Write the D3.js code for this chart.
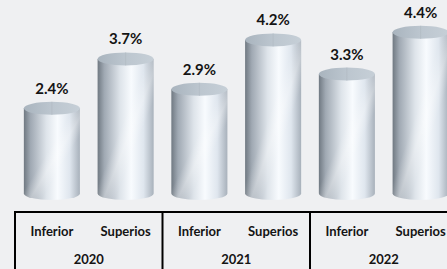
<!DOCTYPE html>
<html>
<head>
<meta charset="utf-8">
<script src="https://cdn.jsdelivr.net/npm/d3@7"></script>
<style>
  body { margin: 0; background: #eff0f2; }
  svg { display: block; }
  text { font-family: Lato, "Noto Sans", sans-serif; font-weight: bold; fill: #141414; }
</style>
</head>
<body>
<svg id="chart" width="447" height="269"></svg>
<script>
// data
const years = ["2020", "2021", "2022"];
const levels = ["Inferior", "Superios"];
const values = [2.4, 3.7, 2.9, 4.2, 3.3, 4.4];   // year-major order
const valueLabels = ["2.4%", "3.7%", "2.9%", "4.2%", "3.3%", "4.4%"];

// layout
const W = 447, H = 269;
const left = 15, slot = 73.75;
const base = 193.5;      // centre of the bottom ellipse
const ry = 6.5;
const tableTop = 212;

const svg = d3.select("#chart");

const cats = values.map((v, i) => years[Math.floor(i / 2)] + "-" + levels[i % 2]);
const x = d3.scaleBand().domain(cats).range([left, left + slot * cats.length]).paddingInner(0.24).paddingOuter(0.12);
const xYear = d3.scaleBand().domain(years).range([left, left + slot * cats.length]);
const y = d3.scaleLinear().domain([0, 5]).range([199.5, 9.5]);

// gradients
const defs = svg.append("defs");
const bodyGrad = defs.append("linearGradient").attr("id", "body").attr("x1", 0).attr("x2", 1).attr("y1", 0).attr("y2", 0);
[[0, "#707982"], [0.12, "#a0a9b3"], [0.4, "#dee4ea"], [0.6, "#f8fbfe"], [0.82, "#dfe6ee"], [1, "#a8b1bb"]]
  .forEach(s => bodyGrad.append("stop").attr("offset", s[0]).attr("stop-color", s[1]));
const topGrad = defs.append("linearGradient").attr("id", "top").attr("x1", 0).attr("x2", 1).attr("y1", 0).attr("y2", 0);
[[0, "#a9b4be"], [0.5, "#bcc6cf"], [1, "#c6cfd7"]]
  .forEach(s => topGrad.append("stop").attr("offset", s[0]).attr("stop-color", s[1]));
const shineGrad = defs.append("linearGradient").attr("id", "shine").attr("x1", 0).attr("x2", 1).attr("y1", 0).attr("y2", 1);
[[0, "#ffffff", 0], [0.45, "#ffffff", 0], [0.55, "#ffffff", 0.3], [0.65, "#ffffff", 0]]
  .forEach(s => shineGrad.append("stop").attr("offset", s[0]).attr("stop-color", s[1]).attr("stop-opacity", s[2]));

// cylinders
const g = svg.append("g");
const cyl = g.selectAll("g.cyl").data(values).join("g").attr("class", "cyl");

function bodyPath(d, i) {
  const x0 = x(cats[i]), x1 = x0 + x.bandwidth(), rx = x.bandwidth() / 2;
  return `M${x0},${y(d)} L${x0},${base} A${rx},${ry} 0 0 0 ${x1},${base} L${x1},${y(d)} Z`;
}
cyl.append("path").attr("d", bodyPath).attr("fill", "url(#body)");
cyl.append("path").attr("d", bodyPath).attr("fill", "url(#shine)");
cyl.append("ellipse")
  .attr("cx", (d, i) => x(cats[i]) + x.bandwidth() / 2)
  .attr("cy", d => y(d))
  .attr("rx", x.bandwidth() / 2)
  .attr("ry", ry)
  .attr("fill", "url(#top)");
cyl.append("line")
  .attr("x1", (d, i) => x(cats[i]) + x.bandwidth() / 2)
  .attr("x2", (d, i) => x(cats[i]) + x.bandwidth() / 2)
  .attr("y1", d => y(d) - ry)
  .attr("y2", d => y(d) + ry)
  .attr("stroke", "#aeb8c1").attr("stroke-width", 0.6);

// value labels
g.selectAll("text.val").data(values).join("text")
  .attr("class", "val")
  .attr("x", (d, i) => x(cats[i]) + x.bandwidth() / 2)
  .attr("y", d => y(d) - ry - 8)
  .attr("text-anchor", "middle")
  .style("font-size", "15px")
  .text((d, i) => valueLabels[i]);

// category table
svg.append("line").attr("x1", left).attr("x2", W).attr("y1", tableTop).attr("y2", tableTop)
  .attr("stroke", "#000").attr("stroke-width", 2);
svg.selectAll("line.sep").data(years).join("line")
  .attr("class", "sep")
  .attr("x1", d => xYear(d)).attr("x2", d => xYear(d))
  .attr("y1", tableTop - 1).attr("y2", H)
  .attr("stroke", "#000").attr("stroke-width", 2);

svg.selectAll("text.lvl").data(cats).join("text")
  .attr("class", "lvl")
  .attr("x", d => x(d) + x.bandwidth() / 2)
  .attr("y", 236)
  .attr("text-anchor", "middle")
  .style("font-size", "13px")
  .text((d, i) => levels[i % 2]);

svg.selectAll("text.yr").data(years).join("text")
  .attr("class", "yr")
  .attr("x", d => xYear(d) + xYear.bandwidth() / 2)
  .attr("y", 264)
  .attr("text-anchor", "middle")
  .style("font-size", "13px")
  .text(d => d);
</script>
</body>
</html>
